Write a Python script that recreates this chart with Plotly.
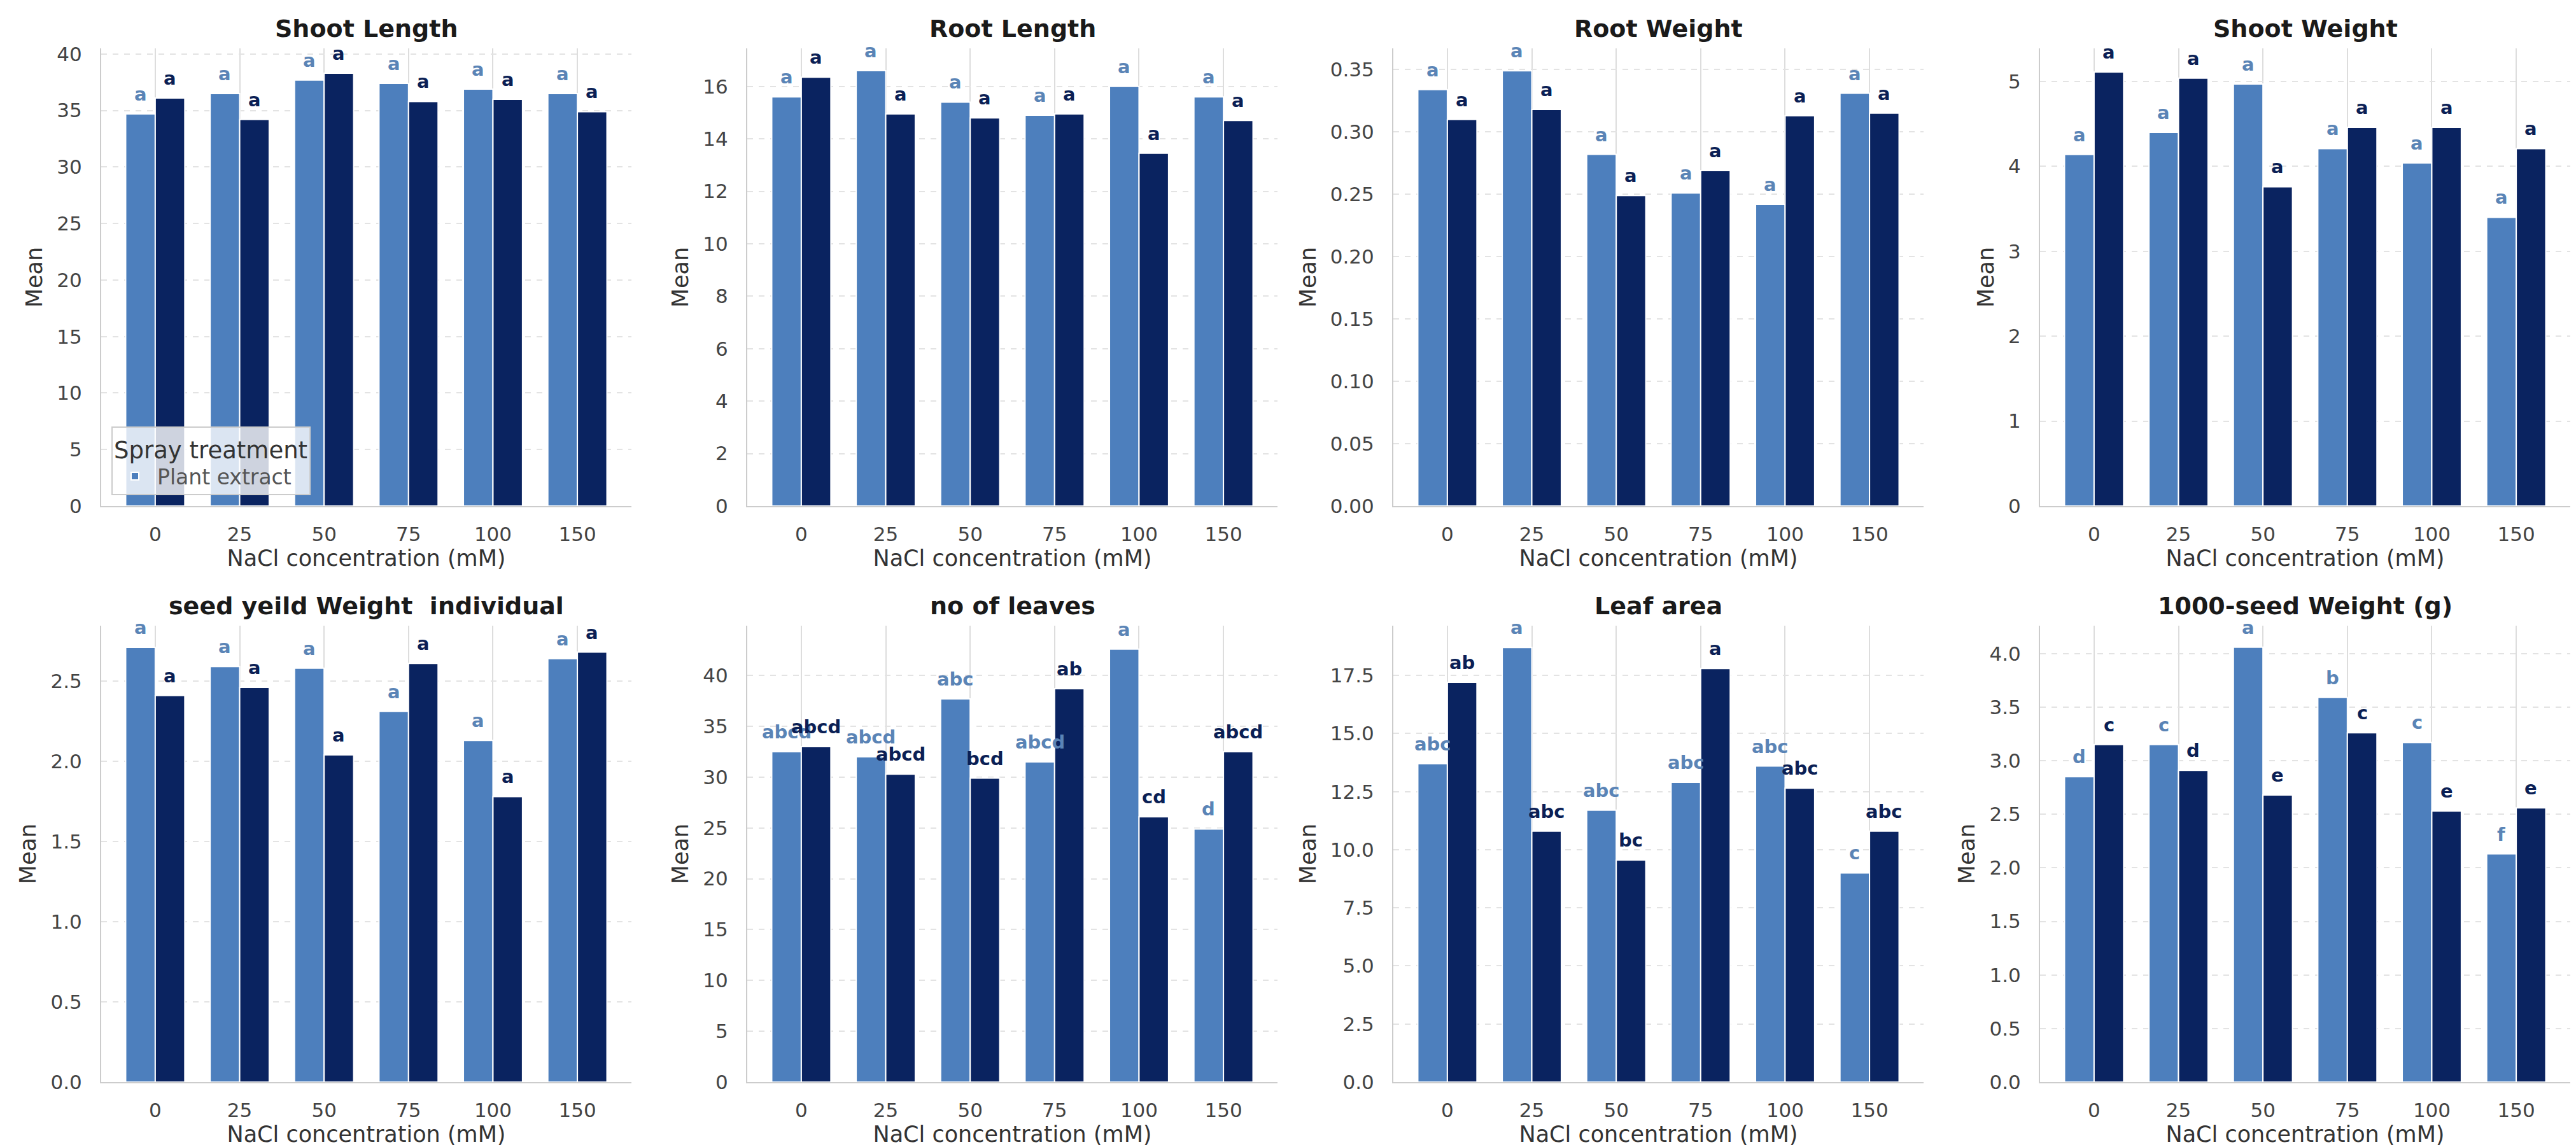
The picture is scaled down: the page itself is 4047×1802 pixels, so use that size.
import plotly.graph_objects as go

# ---------------- data ----------------
conc = ["0", "25", "50", "75", "100", "150"]
series_names = ["Plant extract", "Control"]

titles = ["Shoot Length", "Root Length", "Root Weight", "Shoot Weight",
          "seed yeild Weight  individual", "no of leaves", "Leaf area",
          "1000-seed Weight (g)"]

shoot_length_pe = [34.7, 36.5, 37.7, 37.4, 36.9, 36.5]
shoot_length_ct = [36.1, 34.2, 38.3, 35.8, 36.0, 34.9]
root_length_pe = [15.6, 16.6, 15.4, 14.9, 16.0, 15.6]
root_length_ct = [16.35, 14.95, 14.8, 14.95, 13.45, 14.7]
root_weight_pe = [0.334, 0.349, 0.282, 0.251, 0.242, 0.331]
root_weight_ct = [0.310, 0.318, 0.249, 0.269, 0.313, 0.315]
shoot_weight_pe = [4.14, 4.40, 4.97, 4.21, 4.04, 3.40]
shoot_weight_ct = [5.11, 5.04, 3.76, 4.46, 4.46, 4.21]
seed_yield_pe = [2.71, 2.59, 2.58, 2.31, 2.13, 2.64]
seed_yield_ct = [2.41, 2.46, 2.04, 2.61, 1.78, 2.68]
leaves_pe = [32.5, 32.0, 37.7, 31.5, 42.6, 24.9]
leaves_ct = [33.0, 30.3, 29.9, 38.7, 26.1, 32.5]
leaf_area_pe = [13.7, 18.7, 11.7, 12.9, 13.6, 9.0]
leaf_area_ct = [17.2, 10.8, 9.55, 17.8, 12.65, 10.8]
seed1000_pe = [2.85, 3.15, 4.06, 3.59, 3.17, 2.13]
seed1000_ct = [3.15, 2.91, 2.68, 3.26, 2.53, 2.56]

all_a = ["a", "a", "a", "a", "a", "a"]
leaves_pe_let = ["abcd", "abcd", "abc", "abcd", "a", "d"]
leaves_ct_let = ["abcd", "abcd", "bcd", "ab", "cd", "abcd"]
leaf_area_pe_let = ["abc", "a", "abc", "abc", "abc", "c"]
leaf_area_ct_let = ["ab", "abc", "bc", "a", "abc", "abc"]
seed1000_pe_let = ["d", "c", "a", "b", "c", "f"]
seed1000_ct_let = ["c", "d", "e", "c", "e", "e"]

pe_values = [shoot_length_pe, root_length_pe, root_weight_pe, shoot_weight_pe,
             seed_yield_pe, leaves_pe, leaf_area_pe, seed1000_pe]
ct_values = [shoot_length_ct, root_length_ct, root_weight_ct, shoot_weight_ct,
             seed_yield_ct, leaves_ct, leaf_area_ct, seed1000_ct]
pe_letters = [all_a, all_a, all_a, all_a, all_a, leaves_pe_let, leaf_area_pe_let, seed1000_pe_let]
ct_letters = [all_a, all_a, all_a, all_a, all_a, leaves_ct_let, leaf_area_ct_let, seed1000_ct_let]

y_max = [40.5, 17.45, 0.367, 5.39, 2.845, 44.9, 19.64, 4.26]
y_dtick = [5, 2, 0.05, 1, 0.5, 5, 2.5, 0.5]
y_fmt = ["", "", ".2f", "", ".1f", "", ".1f", ".1f"]

# ---------------- style ----------------
W, H = 4047, 1802
LIGHT = "#4d7fbd"
DARK = "#0a2360"
LIGHT_TXT = "#5a84b6"
DARK_TXT = "#0b1f55"
FONT = "DejaVu Sans"
BARGAP = 0.3

col_left = [151, 1166, 2181, 3197]
plot_w = 833
row_top = [68, 975]
row_bot = [787, 1692]

fig = go.Figure()
layout = {}
annotations = []

half = (1 - BARGAP) / 4  # centre offset of each bar within its group

for i in range(8):
    k = i + 1
    r, c = divmod(i, 4)
    xs = "" if k == 1 else str(k)
    x0 = col_left[c] / W
    x1 = (col_left[c] + plot_w) / W
    y0 = 1 - row_bot[r] / H
    y1 = 1 - row_top[r] / H

    for vals, lets, name, col, tcol, grp, show, sgn in (
        (pe_values[i], pe_letters[i], series_names[0], LIGHT, LIGHT_TXT, "pe", i == 0, -1),
        (ct_values[i], ct_letters[i], series_names[1], DARK, DARK_TXT, "ct", False, 1),
    ):
        fig.add_trace(go.Bar(
            x=conc, y=vals, name=name,
            marker=dict(color=col, line=dict(color="white", width=2)),
            offsetgroup=grp, legendgroup=grp, showlegend=show,
            xaxis="x" + xs, yaxis="y" + xs,
        ))
        for j, (v, t) in enumerate(zip(vals, lets)):
            annotations.append(dict(
                text="<b>%s</b>" % t, xref="x" + xs, yref="y" + xs,
                x=j + sgn * half, y=v, yshift=12,
                xanchor="center", yanchor="bottom", showarrow=False,
                font=dict(family=FONT, size=29, color=tcol),
            ))

    layout["xaxis" + xs] = dict(
        domain=[x0, x1], anchor="y" + xs, type="category",
        range=[-0.64, 5.64],
        showgrid=True, gridcolor="#dddddd", gridwidth=1.5,
        showline=True, linecolor="#cccccc", linewidth=2,
        ticks="", ticklabelstandoff=16,
        tickfont=dict(family=FONT, size=31, color="#444444"),
        title=dict(text="NaCl concentration (mM)", standoff=8,
                   font=dict(family=FONT, size=35, color="#333333")),
        automargin=False,
    )
    layout["yaxis" + xs] = dict(
        domain=[y0, y1], anchor="x" + xs,
        range=[0, y_max[i]], dtick=y_dtick[i], tick0=0, tickformat=y_fmt[i],
        showgrid=True, gridcolor="#e3e3e3", gridwidth=1.5, griddash="dash",
        zeroline=False,
        showline=True, linecolor="#cccccc", linewidth=2,
        ticks="", ticklabelstandoff=22,
        tickfont=dict(family=FONT, size=31, color="#444444"),
        title=dict(text="Mean", standoff=12,
                   font=dict(family=FONT, size=35, color="#333333")),
        automargin=False,
    )
    annotations.append(dict(
        text="<b>%s</b>" % titles[i], xref="paper", yref="paper",
        x=(x0 + x1) / 2, y=y1, yshift=31, xanchor="center", yanchor="middle",
        showarrow=False, font=dict(family=FONT, size=38, color="#1a1a1a"),
    ))

fig.update_layout(
    width=W, height=H,
    margin=dict(l=0, r=0, t=0, b=0),
    paper_bgcolor="white", plot_bgcolor="white",
    barmode="group", bargap=BARGAP, bargroupgap=0,
    font=dict(family=FONT, color="#333333"),
    annotations=annotations,
    legend=dict(
        x=167 / W, y=1 - 770 / H, xanchor="left", yanchor="bottom",
        bgcolor="rgba(255,255,255,0.8)", bordercolor="#cccccc", borderwidth=2,
        title=dict(text="Spray treatment", font=dict(family=FONT, size=37, color="#333333")),
        font=dict(family=FONT, size=33, color="#555555"),
        itemwidth=60,
    ),
    **layout,
)

fig.write_html("out.html")
